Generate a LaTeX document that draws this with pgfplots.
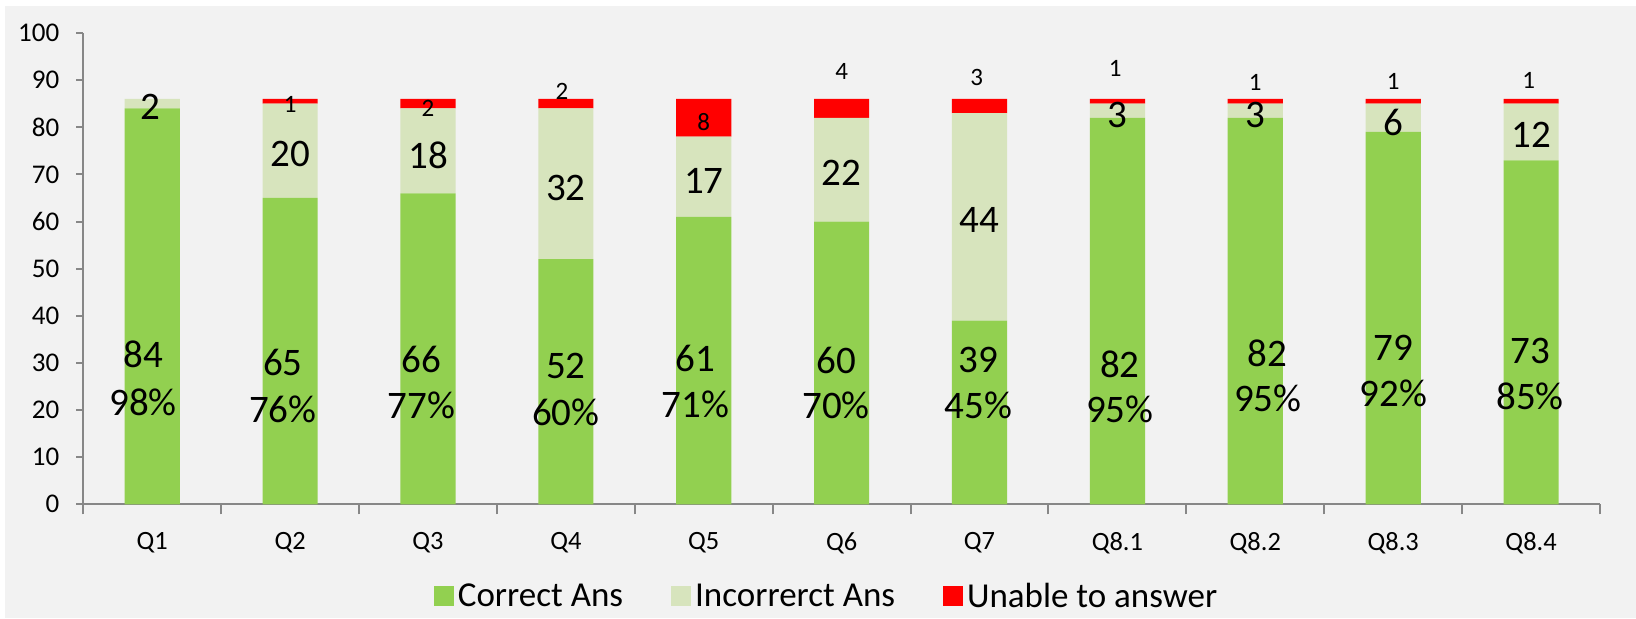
\documentclass[border=0pt]{standalone}
\usepackage{pgfplots}
\usepackage{pgfplotstable}
\pgfplotsset{compat=1.18}
\usepackage{fontspec}
\setmainfont{Carlito}
\definecolor{cgreen}{HTML}{92D050}
\definecolor{clight}{HTML}{D7E4BD}
\definecolor{cred}{HTML}{FF0000}
\definecolor{bgc}{HTML}{F2F2F2}
\definecolor{axgray}{HTML}{878787}

\pgfplotstableread{
x c i u
0 84 2 0
1 65 20 1
2 66 18 2
3 52 32 2
4 61 17 8
5 60 22 4
6 39 44 3
7 82 3 1
8 82 3 1
9 79 6 1
10 73 12 1
}\data

\pgfplotstableread{
x y l
-0.067 31.9 84
0.947 30.0 65
1.951 30.8 66
3.0 29.4 52
3.94 31.0 61
4.96 30.6 60
5.99 30.7 39
7.018 29.7 82
8.09 32.1 82
9.0 33.3 79
9.993 32.5 73
}\cnt

\pgfplotstableread{
x y l
-0.067 21.6 98
0.947 20.2 76
1.951 20.9 77
3.0 19.6 60
3.94 21.3 71
4.96 21.1 70
5.99 21.0 45
7.018 20.1 95
8.09 22.4 95
9.0 23.6 92
9.993 22.9 85
}\pct

\pgfplotstableread{
x y l
-0.015 84.4 2
1 74.3 20
2 74.1 18
3 67.2 32
4 68.7 17
5 70.4 22
6 60.3 44
7 82.7 3
8 82.7 3
9 81.1 6
10 78.4 12
}\inc

\pgfplotstableread{
x y l
1 84.9 1
2 84.0 2
2.972 87.6 2
4 81.0 8
5 91.9 4
5.98 90.5 3
6.983 92.5 1
8 89.6 1
9 89.7 1
9.983 90.0 1
}\una

\begin{document}
\begin{tikzpicture}
\fill[white] (-41.65pt,-56.85pt) rectangle (776.35pt,252.15pt);
\fill[bgc] (-39.15pt,-56.85pt) rectangle (776.35pt,249.15pt);
\useasboundingbox (-41.65pt,-56.85pt) rectangle (776.35pt,252.15pt);
\begin{axis}[
  at={(0,0)}, anchor=south west,
  width=758.35pt, height=235.65pt, scale only axis,
  xmin=-0.5, xmax=10.5, ymin=0, ymax=100,
  ybar stacked, bar width=0.4,
  legend image code/.code={\fill[#1] (0pt,-4.5pt) rectangle (10pt,5.5pt);},
  axis lines=left,
  axis line style={-, draw=axgray, line width=1.1pt},
  tick align=outside,
  xtick={0,...,10},
  xticklabels={Q1,Q2,Q3,Q4,Q5,Q6,Q7,Q8.1,Q8.2,Q8.3,Q8.4},
  minor xtick={-0.5,0.5,...,10.5},
  minor tick length=5pt,
  major tick length=3.5pt,
  ytick={0,10,...,100},
  every tick/.style={draw=axgray, line width=1pt},
  major x tick style={draw=none},
  /pgf/number format/assume math mode=true,
  yticklabel style={font=\fontsize{13.5}{16}\selectfont, text=black, xshift=-5pt},
  xticklabel style={font=\fontsize{13.2}{16}\selectfont, text=black, yshift=-7pt},
  legend style={at={(0.4907,-0.1963)}, anchor=center, draw=none, fill=none,
    font=\fontsize{17.5}{20}\selectfont, legend columns=3,
    nodes={inner ysep=1pt},
    /tikz/every even column/.append style={column sep=22pt}},
]
\addplot[fill=cgreen, draw=none] table[x=x,y=c]{\data};
\addlegendentry{Correct Ans}
\addplot[fill=clight, draw=none] table[x=x,y=i]{\data};
\addlegendentry{Incorrerct Ans}
\addplot[fill=cred, draw=none] table[x=x,y=u]{\data};
\addlegendentry{Unable to answer}
\end{axis}
\begin{axis}[
  at={(0,0)}, anchor=south west,
  width=758.35pt, height=235.65pt, scale only axis,
  xmin=-0.5, xmax=10.5, ymin=0, ymax=100,
  hide axis, clip=false,
]
\addplot[only marks, mark=*, mark size=0pt, mark options={draw=none,fill=none},
  nodes near coords, point meta=explicit symbolic,
  nodes near coords style={anchor=center, inner sep=0pt, text=black, font=\fontsize{19.5}{22}\selectfont}]
  table[x=x,y=y,meta=l]{\cnt};
\addplot[only marks, mark=*, mark size=0pt, mark options={draw=none,fill=none},
  nodes near coords={\pgfplotspointmeta\%}, point meta=explicit symbolic,
  nodes near coords style={anchor=center, inner sep=0pt, text=black, font=\fontsize{19.5}{22}\selectfont}]
  table[x=x,y=y,meta=l]{\pct};
\addplot[only marks, mark=*, mark size=0pt, mark options={draw=none,fill=none},
  nodes near coords, point meta=explicit symbolic,
  nodes near coords style={anchor=center, inner sep=0pt, text=black, font=\fontsize{19.5}{22}\selectfont}]
  table[x=x,y=y,meta=l]{\inc};
\addplot[only marks, mark=*, mark size=0pt, mark options={draw=none,fill=none},
  nodes near coords, point meta=explicit symbolic,
  nodes near coords style={anchor=center, inner sep=0pt, text=black, font=\fontsize{12.5}{14}\selectfont}]
  table[x=x,y=y,meta=l]{\una};
\end{axis}
\end{tikzpicture}
\end{document}
